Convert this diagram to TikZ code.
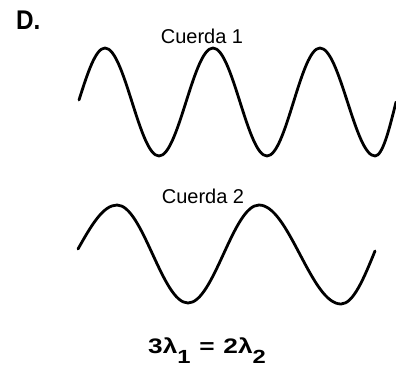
\documentclass[tikz,border=0pt]{standalone}
\usepackage{fontspec}
\setmainfont{Liberation Sans}
\begin{document}
\begin{tikzpicture}[x=1pt,y=-1pt,
  wave/.style={line width=2.8pt, line cap=round, line join=round},
  lbl/.style={inner sep=0pt, font=\fontsize{20}{24}\selectfont}]
\useasboundingbox (0,0) rectangle (396,368);
\node[anchor=base west, inner sep=0pt, font=\fontsize{27}{30}\selectfont] (title) at (16,29) {\scalebox{0.9}[1]{\textbf{D.}}};
\node[lbl, anchor=base] (c1) at (202,43) {Cuerda 1};
\node[lbl, anchor=base] (c2) at (203,203) {Cuerda 2};
\draw[wave] (79,100) sin (105,48) cos (132,102) sin (159,156) cos (186,102)
  sin (213,48) cos (240,102) sin (267,156) cos (293.5,102)
  sin (320,48) cos (347.5,102) sin (375,156) cos (396,102);
\draw[wave] (78,249) sin (117,205) cos (152.5,254) sin (188,303) cos (223.5,254)
  sin (259,205) cos (300,254.5) sin (341,304) cos (375,251);
\node[anchor=base west, inner sep=0pt, font=\bfseries\fontsize{21}{24}\selectfont] (eq) at (148,353)
  {\scalebox{1.25}[1]{3λ\raisebox{-10pt}{\fontsize{19}{22}\selectfont 1}\hspace{7pt}=\hspace{7pt}2λ\raisebox{-10pt}{\fontsize{19}{22}\selectfont 2}}};
\end{tikzpicture}
\end{document}
